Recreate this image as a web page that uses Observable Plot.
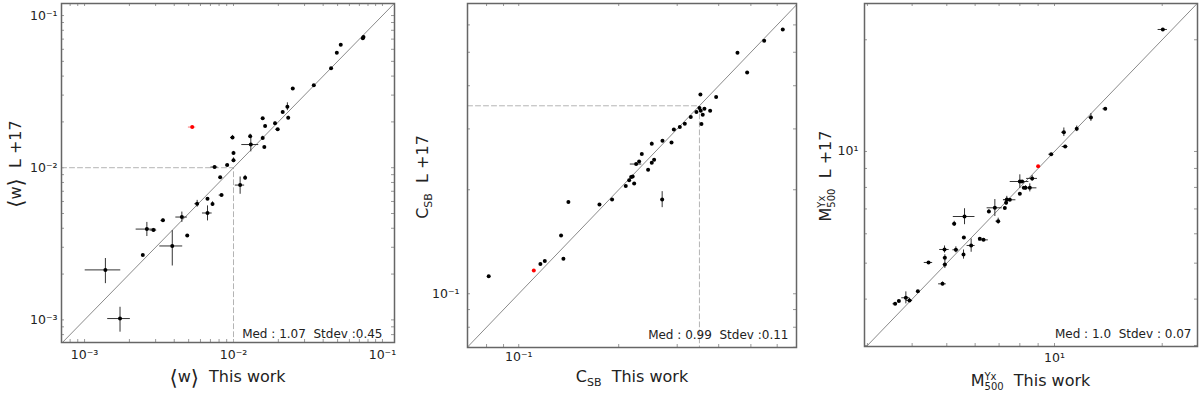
<!DOCTYPE html>
<html><head><meta charset="utf-8">
<script src="https://cdn.jsdelivr.net/npm/d3@7"></script>
<script src="https://cdn.jsdelivr.net/npm/@observablehq/plot@0.6"></script>
<style>
html,body{margin:0;padding:0;background:#fff;}
#wrap{position:relative;width:1200px;height:393px;overflow:hidden;font-family:"DejaVu Sans",sans-serif;}
.panel{position:absolute;top:0;}
#labels{position:absolute;left:0;top:0;pointer-events:none;}
</style></head><body><div id="wrap"></div>
<script>
// ---------- Panel 1: <w> ----------
const wThis    = [0.00138,0.00173,0.00246,0.00262,0.00290,0.00336,0.00388,0.00450,0.00489,0.00570,0.00669,0.00669,0.00723,0.00746,0.00814,0.00831,0.00907,0.00985,0.0100,0.0100,0.01108,0.01197,0.01294,0.01307,0.0157,0.0157,0.0161,0.0163,0.0190,0.0198,0.0214,0.0230,0.0233,0.0250,0.0346,0.0452,0.0494,0.0525,0.0738,0.0746];
const wL17     = [0.00213,0.00102,0.00267,0.00395,0.00389,0.00451,0.00306,0.00474,0.00359,0.00580,0.00625,0.00504,0.00577,0.0101,0.00864,0.00661,0.0104,0.0158,0.0125,0.0112,0.00769,0.0086,0.0161,0.0142,0.0211,0.0157,0.0137,0.0188,0.0196,0.0179,0.0232,0.0252,0.0213,0.0332,0.0348,0.0450,0.0570,0.0643,0.0708,0.0722];
const wThisErr = [0.00037,0.0003,0,0.0004,0.00015,0.0001,0.00068,0.0004,0,0.0002,0,0.0005,0.0001,0.0004,0,0.0003,0.0002,0.0003,0,0,0.0008,0.0002,0,0.0017,0,0.0002,0,0,0,0.0006,0,0,0,0,0,0,0,0,0,0];
const wL17Err  = [0.0004,0.00019,0,0.00042,0.0001,0.0001,0.0008,0.00037,0,0.0003,0,0.00057,0.0002,0.0001,0.0001,0,0,0.0005,0.0003,0.0004,0.001,0.0003,0.0005,0.0015,0,0.0004,0,0.0003,0.0004,0,0.0004,0.0015,0.0005,0,0,0,0,0,0,0];
const wRedThis = [0.00528], wRedL17 = [0.0185], wRedThisErr = [0.0003], wRedL17Err = [0];
const wRef = 0.01;
const wTicks = [0.001, 0.01, 0.1];
const wTickLabels = ["10\u207B\u00B3", "10\u207B\u00B2", "10\u207B\u00B9"];
const wStats = "Med : 1.07 \u00A0Stdev :0.45";

// ---------- Panel 2: C_SB ----------
const cThis    = [0.0812,0.1162,0.1198,0.1341,0.1363,0.1411,0.175,0.191,0.210,0.215,0.218,0.2203,0.2226,0.2257,0.2304,0.2347,0.2452,0.2515,0.2515,0.2556,0.2703,0.2709,0.2884,0.2931,0.3055,0.3162,0.3296,0.3428,0.350,0.3524,0.3532,0.3549,0.3581,0.3623,0.3770,0.3930,0.4556,0.4872,0.5483,0.6237];
const cL17     = [0.1123,0.122,0.1243,0.1475,0.1262,0.1842,0.1814,0.1875,0.205,0.213,0.2177,0.2186,0.2085,0.2374,0.2415,0.2537,0.2285,0.2395,0.2718,0.2443,0.1875,0.2772,0.2742,0.2990,0.3038,0.3105,0.3247,0.3357,0.3447,0.3776,0.3386,0.3098,0.3298,0.3432,0.3386,0.3708,0.4983,0.4371,0.5398,0.5821];
const cThisErr = [0,0,0,0,0,0,0,0,0,0,0,0,0,0.009,0,0,0,0,0,0,0,0,0,0,0,0,0,0,0,0,0,0,0,0,0,0,0,0,0,0];
const cL17Err  = [0,0,0,0,0,0,0,0,0,0,0,0,0,0,0,0,0,0,0.003,0,0.01,0,0,0,0,0,0,0,0,0,0,0,0,0,0,0,0,0,0,0];
const cRedThis = [0.111], cRedL17 = [0.1168], cRedThisErr = [0], cRedL17Err = [0];
const cRef = 0.35;
const cTicks = [0.1];
const cTickLabels = ["10\u207B\u00B9"];
const cStats = "Med : 0.99 \u00A0Stdev :0.11";

// ---------- Panel 3: M500 Yx ----------
const mThis    = [3.586,3.673,3.842,3.933,4.150,4.445,4.864,4.927,4.938,4.938,5.244,5.301,5.58,5.568,5.604,5.848,6.184,6.333,6.556,6.812,6.96,7.263,7.325,7.357,7.50,8.0,8.0,8.12,8.21,8.30,8.53,8.66,9.79,10.62,10.71,11.54,12.64,13.86,20.08];
const mL17     = [3.886,3.951,4.034,3.967,4.203,5.022,4.398,5.443,5.168,4.959,6.383,5.433,5.864,5.276,6.679,5.58,5.814,5.778,6.89,7.05,6.49,7.037,7.27,7.42,7.41,7.69,8.30,8.30,7.98,7.98,7.98,8.46,9.83,11.27,10.31,11.51,12.35,13.03,21.32];
const mThisErr = [0.05,0,0.1,0.08,0,0.12,0.12,0.15,0.05,0.05,0.06,0.1,0,0.04,0.39,0.15,0,0.2,0.05,0.33,0.1,0,0.05,0.15,0.3,0,0.48,0,0,0,0.4,0.3,0.15,0.15,0.2,0.1,0.15,0.2,0.6];
const mL17Err  = [0,0,0.15,0.05,0,0,0.05,0.12,0.1,0.12,0.1,0.1,0,0.15,0.33,0.23,0,0.05,0.08,0.37,0.12,0.05,0.1,0.15,0,0,0.35,0,0,0.1,0.2,0.15,0,0.3,0,0.2,0.3,0.1,0.1];
const mRedThis = [9.00], mRedL17 = [9.13], mRedThisErr = [0], mRedL17Err = [0];
const mTicks = [10];
const mTickLabels = ["10\u00B9"];
const mStats = "Med : 1.0 \u00A0Stdev : 0.07";

const rows = (a, b, ea, eb) => a.map((v, i) => ({x: v, y: b[i], ex: ea[i], ey: eb[i]}));

function panel(o) {
  const W = 400, H = 393;
  const pw = W - o.mL - o.mR, ph = H - o.mT - o.mB;
  const xMinor = d3.scaleLog().domain(o.xDomain).ticks().filter(v => v > o.xDomain[0] && v < o.xDomain[1]);
  const yMinor = d3.scaleLog().domain(o.yDomain).ticks().filter(v => v > o.yDomain[0] && v < o.yDomain[1]);
  const lo = Math.min(o.xDomain[0], o.yDomain[0]), hi = Math.max(o.xDomain[1], o.yDomain[1]);
  const diag = [lo, hi];
  const xFmt = new Map(o.xTicks.map((t, i) => [t, o.xLabels[i]]));
  const yFmt = new Map(o.yTicks.map((t, i) => [t, o.yLabels[i]]));
  const marks = [
    Plot.tickX(xMinor, {x: d => d, insetTop: ph - 3, stroke: "#999"}),
    Plot.tickX(xMinor, {x: d => d, insetBottom: ph - 3, stroke: "#999"}),
    Plot.tickY(yMinor, {y: d => d, insetRight: pw - 3, stroke: "#999"}),
    Plot.tickY(yMinor, {y: d => d, insetLeft: pw - 3, stroke: "#999"})
  ];
  if (o.ref != null) {
    const refPath = [[o.xDomain[0], o.ref], [o.ref, o.ref], [o.ref, o.yDomain[0]]];
    marks.push(Plot.line(refPath, {x: d => d[0], y: d => d[1], stroke: "#b4b4b4", strokeWidth: 1, strokeDasharray: "5,3"}));
  }
  marks.push(Plot.line(diag, {x: d => d, y: d => d, stroke: "#8a8a8a", strokeWidth: 1, clip: true}));
  const pts = o.pts, red = o.red;
  marks.push(
    Plot.ruleY(pts.filter(d => d.ex > 0), {y: "y", x1: d => d.x - d.ex, x2: d => d.x + d.ex, stroke: "#333", strokeWidth: 1}),
    Plot.ruleX(pts.filter(d => d.ey > 0), {x: "x", y1: d => d.y - d.ey, y2: d => d.y + d.ey, stroke: "#333", strokeWidth: 1}),
    Plot.ruleY(red.filter(d => d.ex > 0), {y: "y", x1: d => d.x - d.ex, x2: d => d.x + d.ex, stroke: "#f77", strokeWidth: 1}),
    Plot.dot(pts, {x: "x", y: "y", r: 2, fill: "#000"}),
    Plot.dot(red, {x: "x", y: "y", r: 2, fill: "#f00"}),
    Plot.frame({stroke: "#666", strokeWidth: 1.5}),
    Plot.axisX(o.xTicks, {tickSize: 0, tickPadding: o.xPad, tickFormat: d => xFmt.get(d), fontSize: 12.5, fill: "#222", label: null}),
    Plot.axisY(o.yTicks, {tickSize: 0, tickPadding: o.yPad, tickFormat: d => yFmt.get(d), fontSize: 12.5, fill: "#222", label: null}),
    Plot.text([o.stats], {text: d => d, frameAnchor: "bottom-right", textAnchor: "end", lineAnchor: "bottom", dx: o.sdx, dy: o.sdy, fontSize: 12, fill: "#222"})
  );
  const svg = Plot.plot({
    width: W, height: H,
    marginLeft: o.mL, marginRight: o.mR, marginTop: o.mT, marginBottom: o.mB,
    x: {type: "log", domain: o.xDomain},
    y: {type: "log", domain: o.yDomain},
    style: {fontFamily: "DejaVu Sans", fontSize: "12px", color: "#222", background: "transparent", overflow: "visible"},
    marks
  });
  svg.classList.add("panel");
  svg.style.left = o.left + "px";
  svg.style.position = "absolute";
  return svg;
}

const wrap = document.getElementById("wrap");
wrap.appendChild(panel({left: 0, mL: 61, mR: 6, mT: 3, mB: 51,
  xDomain: [7.0e-4, 0.1205], yDomain: [7.1e-4, 0.120],
  pts: rows(wThis, wL17, wThisErr, wL17Err), red: rows(wRedThis, wRedL17, wRedThisErr, wRedL17Err),
  ref: wRef, xTicks: wTicks, xLabels: wTickLabels, yTicks: wTicks, yLabels: wTickLabels,
  xPad: 8, yPad: 4, stats: wStats, sdx: -12, sdy: -5}));
wrap.appendChild(panel({left: 400, mL: 67, mR: 4, mT: 3, mB: 46,
  xDomain: [0.0701, 0.686], yDomain: [0.0699, 0.692],
  pts: rows(cThis, cL17, cThisErr, cL17Err), red: rows(cRedThis, cRedL17, cRedThisErr, cRedL17Err),
  ref: cRef, xTicks: cTicks, xLabels: cTickLabels, yTicks: cTicks, yLabels: cTickLabels,
  xPad: 5, yPad: 8, stats: cStats, sdx: -8, sdy: -9}));
wrap.appendChild(panel({left: 800, mL: 64, mR: 3, mT: 3, mB: 47,
  xDomain: [2.944, 25.1], yDomain: [2.981, 25.05],
  pts: rows(mThis, mL17, mThisErr, mL17Err), red: rows(mRedThis, mRedL17, mRedThisErr, mRedL17Err),
  ref: null, xTicks: mTicks, xLabels: mTickLabels, yTicks: mTicks, yLabels: mTickLabels,
  xPad: 7, yPad: 6, stats: mStats, sdx: -6, sdy: -9}));

// ---------- axis titles (text with sub/superscripts) ----------
const ov = d3.select(wrap).append("svg").attr("id", "labels").attr("width", 1200).attr("height", 393)
  .style("font-family", "DejaVu Sans").style("fill", "#222");

function title(x, y, rotate, parts) {
  const t = ov.append("text").attr("text-anchor", "middle").attr("font-size", 16)
    .attr("transform", `translate(${x},${y})` + (rotate ? " rotate(-90)" : ""))
    .style("white-space", "pre");
  parts.forEach(p => {
    const s = t.append("tspan").text(p.t);
    if (p.fs) s.attr("font-size", p.fs);
    if (p.dy) s.attr("dy", p.dy);
    if (p.dx) s.attr("dx", p.dx);
  });
}
const wPart = [{t: "\u27E8", fs: 21, dy: 2.5}, {t: "w", dy: -2.5}, {t: "\u27E9", fs: 21, dy: 2.5}];
const cPart = [{t: "C"}, {t: "SB", fs: 11, dy: 4}];
const mPart = [{t: "M"}, {t: "500", fs: 10, dy: 3.5}, {t: "Yx", fs: 10, dx: -19.1, dy: -9.5}];
title(227.5, 382, false, [...wPart, {t: "  This work", dy: -2.5}]);
title(20.5, 164, true, [...wPart, {t: "  L +17", dy: -2.5}]);
title(632, 382, false, [...cPart, {t: "  This work", dy: -4}]);
title(428, 177, true, [...cPart, {t: "  L +17", dy: -4}]);
title(1030.5, 386, false, [...mPart, {t: "  This work", dx: 7.1, dy: 6}]);
title(831, 176, true, [...mPart, {t: "  L +17", dx: 7.1, dy: 6}]);
</script></body></html>
